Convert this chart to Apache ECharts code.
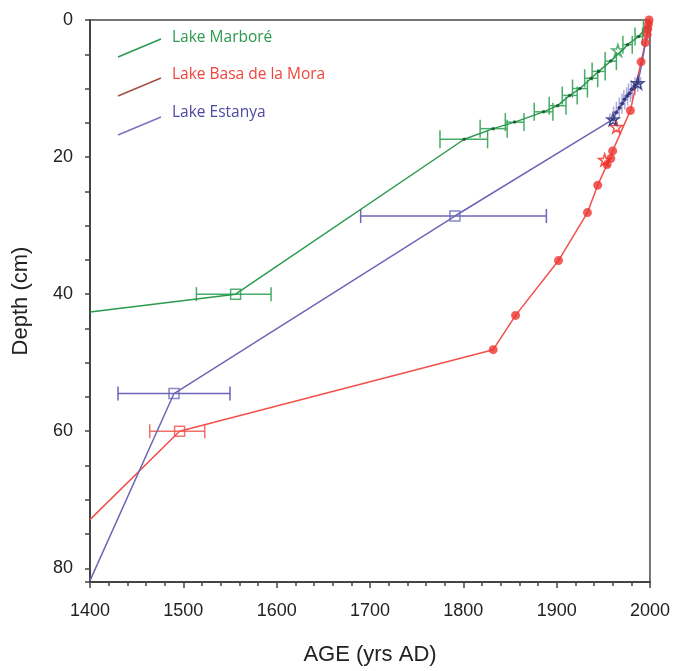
<!DOCTYPE html>
<html><head><meta charset="utf-8">
<script src="https://cdn.jsdelivr.net/npm/echarts@6/dist/echarts.min.js"></script>
<style>html,body{margin:0;padding:0;background:#fff}#c{width:673px;height:671px}</style>
</head><body><div id="c"></div>
<script>
// ---- data (age in yrs AD, depth in cm) ----
const seriesNames = ['Lake Marboré', 'Lake Basa de la Mora', 'Lake Estanya'];
const yTickLabels = [0, 20, 40, 60, 80];

// Lake Marboré
const marboreAge   = [1400, 1556, 1801, 1832, 1855, 1886, 1901, 1914, 1925, 1937, 1945, 1958, 1976, 1988, 1996, 1999.5];
const marboreDepth = [42.6, 40, 17.4, 15.85, 14.9, 13.4, 12.5, 11.0, 10.0, 8.5, 7.5, 6.0, 3.6, 2.4, 1.1, 0];
const marboreErrLo = [null, 1514, 1775, 1818, 1845, 1876, 1892, 1906, 1917, 1930, 1938, 1952, 1971, 1984, 1993, null];
const marboreErrHi = [null, 1594, 1826, 1847, 1865, 1896, 1910, 1922, 1933, 1944, 1952, 1964, 1981, 1992, 1999, null];
const marboreStarAge = [1965.6];
const marboreStarDepth = [4.45];

// Lake Basa de la Mora
const basaAge   = [1400, 1496, 1832, 1856, 1902, 1933, 1944, 1954, 1958, 1960, 1979, 1990.5, 1995, 1997, 1997.6, 1998.4, 1999];
const basaDepth = [72.9, 60, 48.1, 43.1, 35.1, 28.1, 24.1, 21.1, 20.2, 19.1, 13.2, 6.1, 3.3, 2.1, 1.3, 0.6, 0];
const basaSquareErrLo = [1464];
const basaSquareErrHi = [1523];
const basaStarAge = [1951.4, 1964];
const basaStarDepth = [20.4, 15.6];

// Lake Estanya
const estanyaAge   = [1400, 1490, 1791, 1960.3, 1963.8, 1967.4, 1970.2, 1972.7, 1975.5, 1978.1, 1980.6, 1983.4, 1987, 1991, 1995, 1998, 2000];
const estanyaDepth = [81.8, 54.5, 28.6, 14.5, 13.5, 12.8, 12.2, 11.6, 11.1, 10.7, 10.1, 9.6, 9.2, 6.5, 3.5, 1.2, 0];
const estanyaErrLo = [null, 1430, 1690, 1957, 1961, 1964, 1967, 1970, 1972, 1975, 1977, 1980, 1984, null, null, null, null];
const estanyaErrHi = [null, 1550, 1889, 1963, 1967, 1970, 1973, 1976, 1979, 1981, 1984, 1987, 1990, null, null, null, null];
const estanyaStarAge = [1960.3, 1987];
const estanyaStarDepth = [14.5, 9.2];

// ---- styling ----
const GREEN = '#2b9a4e', GREEN_ERR = '#46ad68', GREEN_DOT = '#17502a';
const RED = '#f2504a', RED_DOT = '#ee3530', RED_ERR = '#f37068';
const BLUE = '#6d66b6', BLUE_DOT = '#2a2a70', BLUE_ERR = 'rgba(110,105,190,0.55)';
const STAR = 'path://M50,0 L61,35 L98,35 L68,57 L79,91 L50,70 L21,91 L32,57 L2,35 L39,35 Z';

const zip = (a, b) => a.map((v, i) => [v, b[i]]);
function errData(age, depth, lo, hi, idx) {
  const out = [];
  idx.forEach(i => { if (lo[i] != null) out.push([age[i], depth[i], lo[i], hi[i]]); });
  return out;
}
function errRender(cap, color, lw) {
  return function (params, api) {
    const y = api.value(1);
    const a = api.coord([api.value(2), y]);
    const b = api.coord([api.value(3), y]);
    const style = { stroke: color, lineWidth: lw, fill: null };
    return { type: 'group', children: [
      { type: 'line', shape: { x1: a[0], y1: a[1], x2: b[0], y2: b[1] }, style },
      { type: 'line', shape: { x1: a[0], y1: a[1] - cap, x2: a[0], y2: a[1] + cap }, style },
      { type: 'line', shape: { x1: b[0], y1: b[1] - cap, x2: b[0], y2: b[1] + cap }, style }
    ]};
  };
}
const range = (s, e) => Array.from({ length: e - s }, (_, k) => s + k);

const chart = echarts.init(document.getElementById('c'), null, { renderer: 'canvas' });
const FONT = '"Liberation Sans", Arial, sans-serif';
const LFONT = '15.5px "Open Sans", sans-serif';

const option = {
  animation: false,
  backgroundColor: '#fff',
  grid: { left: 90, right: 21, top: 20, bottom: 82, show: true, borderColor: '#4a4a4a', borderWidth: 1.5 },
  xAxis: {
    type: 'value', min: 1400, max: 2000, interval: 100,
    name: 'AGE (yrs AD)', nameLocation: 'middle', nameGap: 62,
    nameTextStyle: { fontFamily: FONT, fontSize: 22, color: '#222' },
    axisLine: { show: true, onZero: false, lineStyle: { color: '#444', width: 2 } },
    axisTick: { show: true, inside: false, length: 6, lineStyle: { color: '#444', width: 1.5 } },
    minorTick: { show: true, splitNumber: 5, length: 4, lineStyle: { color: '#444', width: 1.5 } },
    axisLabel: { fontFamily: FONT, fontSize: 18, color: '#222', margin: 20, formatter: v => String(v) },
    splitLine: { show: false }
  },
  yAxis: {
    type: 'value', min: 0, max: 82, interval: 5, inverse: true,
    name: 'Depth (cm)', nameLocation: 'middle', nameGap: 58,
    nameTextStyle: { fontFamily: FONT, fontSize: 22, color: '#222' },
    axisLine: { show: true, onZero: false, lineStyle: { color: '#444', width: 2 } },
    axisTick: { show: true, inside: false, length: 5, lineStyle: { color: '#444', width: 1.5 } },
    axisLabel: {
      fontFamily: FONT, fontSize: 18, color: '#222', margin: 17,
      formatter: v => (yTickLabels.indexOf(v) >= 0 ? String(v) : '')
    },
    splitLine: { show: false }
  },
  graphic: [
    { type: 'line', shape: { x1: 118, y1: 57, x2: 161, y2: 39 }, style: { stroke: GREEN, lineWidth: 1.5 } },
    { type: 'text', left: 172, top: 30, style: { text: seriesNames[0], fill: '#2b9a4e', font: LFONT } },
    { type: 'line', shape: { x1: 118, y1: 96, x2: 161, y2: 78 }, style: { stroke: '#a4503f', lineWidth: 1.5 } },
    { type: 'text', left: 172, top: 67, style: { text: seriesNames[1], fill: '#f0453d', font: LFONT } },
    { type: 'line', shape: { x1: 118, y1: 135, x2: 161, y2: 117 }, style: { stroke: '#7a72c2', lineWidth: 1.5 } },
    { type: 'text', left: 172, top: 105, style: { text: seriesNames[2], fill: '#4d48a0', font: LFONT } }
  ],
  series: [
    // error bars
    { type: 'custom', name: 'mErr', clip: true, z: 2, encode: { x: 0, y: 1 },
      data: errData(marboreAge, marboreDepth, marboreErrLo, marboreErrHi, [1]), renderItem: errRender(7, GREEN_ERR, 1.5) },
    { type: 'custom', name: 'mErr2', clip: true, z: 2, encode: { x: 0, y: 1 },
      data: errData(marboreAge, marboreDepth, marboreErrLo, marboreErrHi, range(2, marboreAge.length)), renderItem: errRender(9, GREEN_ERR, 1.5) },
    { type: 'custom', name: 'bErr', clip: true, z: 2, encode: { x: 0, y: 1 },
      data: [[basaAge[1], basaDepth[1], basaSquareErrLo[0], basaSquareErrHi[0]]], renderItem: errRender(7, RED_ERR, 1.5) },
    { type: 'custom', name: 'eErr', clip: true, z: 2, encode: { x: 0, y: 1 },
      data: errData(estanyaAge, estanyaDepth, estanyaErrLo, estanyaErrHi, [1, 2]), renderItem: errRender(7, BLUE, 1.5) },
    { type: 'custom', name: 'eErr2', clip: true, z: 2, encode: { x: 0, y: 1 },
      data: errData(estanyaAge, estanyaDepth, estanyaErrLo, estanyaErrHi, range(3, estanyaAge.length)), renderItem: errRender(6, BLUE_ERR, 1.5) },
    // lines
    { type: 'line', name: seriesNames[0], data: zip(marboreAge, marboreDepth), showSymbol: false, z: 3,
      lineStyle: { color: GREEN, width: 1.5 }, clip: true },
    { type: 'line', name: seriesNames[1], data: zip(basaAge, basaDepth), showSymbol: false, z: 3,
      lineStyle: { color: RED, width: 1.5 }, clip: true },
    { type: 'line', name: seriesNames[2], data: zip(estanyaAge, estanyaDepth), showSymbol: false, z: 3,
      lineStyle: { color: BLUE, width: 1.5 }, clip: true },
    // markers
    { type: 'scatter', data: zip(marboreAge, marboreDepth).slice(2, marboreAge.length - 1), symbol: 'circle', symbolSize: 3.5, z: 4,
      itemStyle: { color: GREEN_DOT } },
    { type: 'scatter', data: zip(estanyaAge, estanyaDepth).slice(3, 13), symbol: 'circle', symbolSize: 4, z: 4,
      itemStyle: { color: BLUE_DOT } },
    { type: 'scatter', data: zip(basaAge, basaDepth).slice(2), symbol: 'circle', symbolSize: 9, z: 5,
      itemStyle: { color: RED_DOT } },
    { type: 'scatter', data: [[marboreAge[1], marboreDepth[1]]], symbol: 'rect', symbolSize: 10, z: 5,
      itemStyle: { color: 'rgba(255,255,255,0)', borderColor: GREEN, borderWidth: 1.5 } },
    { type: 'scatter', data: [[basaAge[1], basaDepth[1]]], symbol: 'rect', symbolSize: 10, z: 5,
      itemStyle: { color: 'rgba(255,255,255,0)', borderColor: RED, borderWidth: 1.5 } },
    { type: 'scatter', data: zip(estanyaAge, estanyaDepth).slice(1, 3), symbol: 'rect', symbolSize: 10, z: 5,
      itemStyle: { color: 'rgba(255,255,255,0)', borderColor: BLUE, borderWidth: 1.5 } },
    // stars
    { type: 'scatter', data: zip(marboreStarAge, marboreStarDepth), symbol: STAR, symbolSize: 12, z: 6,
      itemStyle: { color: 'rgba(255,255,255,0)', borderColor: GREEN, borderWidth: 1.5 } },
    { type: 'scatter', data: zip(basaStarAge, basaStarDepth), symbol: STAR, symbolSize: 12, z: 6,
      itemStyle: { color: 'rgba(255,255,255,0)', borderColor: '#f02a22', borderWidth: 1.5 } },
    { type: 'scatter', data: zip(estanyaStarAge, estanyaStarDepth), symbol: STAR, symbolSize: 12, z: 6,
      itemStyle: { color: 'rgba(255,255,255,0)', borderColor: '#23307a', borderWidth: 1.5 } }
  ]
};
chart.setOption(option);
</script>
</body></html>
